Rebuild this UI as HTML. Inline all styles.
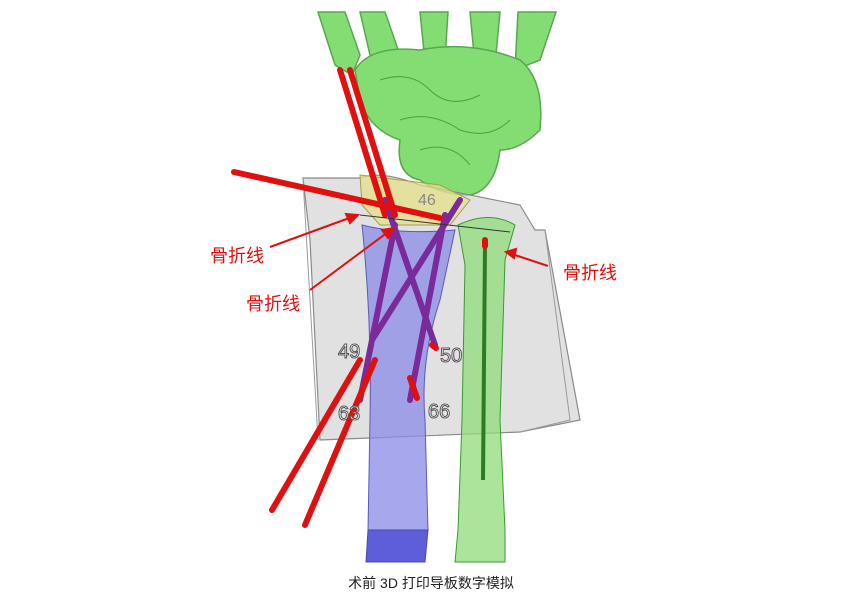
<!DOCTYPE html>
<html><head><meta charset="utf-8"><style>
body{margin:0;background:#fff;width:862px;height:595px;overflow:hidden}
svg{display:block}
</style></head><body>
<svg width="862" height="595" viewBox="0 0 862 595" xmlns="http://www.w3.org/2000/svg">
<rect width="862" height="595" fill="#fff"/>
<g fill="#6fd85a" stroke="#3a9a30" stroke-width="1.5" opacity="0.85">
<path d="M318 12 L345 12 L360 55 L352 75 L335 65 Z"/>
<path d="M360 12 L385 12 L400 55 L385 70 L370 55 Z"/>
<path d="M420 12 L448 12 L445 60 L425 62 Z"/>
<path d="M470 12 L500 12 L495 65 L475 65 Z"/>
<path d="M518 12 L556 12 L540 60 L515 70 Z"/>
<path d="M355 70 Q370 45 420 50 Q470 40 520 60 Q545 80 540 130 Q520 150 500 150 Q495 190 470 195 Q440 195 420 180 Q395 175 400 140 Q370 130 360 100 Z"/>
</g>
<g fill="none" stroke="#2f8a28" stroke-width="1" opacity="0.7">
<path d="M380 80 Q410 70 430 90 Q450 110 480 95"/>
<path d="M400 120 Q430 110 460 130 Q490 140 510 120"/>
<path d="M420 150 Q450 140 470 165"/>
</g>
<path d="M303 178 L360 178 Q380 170 420 185 Q470 195 520 205 L535 230 L545 230 L580 420 L520 432 L320 440 L310 240 Z" fill="#c8c8c8" fill-opacity="0.55" stroke="#8a8a8a" stroke-width="1.2"/>
<path d="M303 178 L318 440" stroke="#9a9a9a" stroke-width="1"/>
<path d="M545 230 L570 420 L520 432" fill="none" stroke="#9a9a9a"/>
<path d="M362 225 Q400 235 455 230 L440 300 Q420 360 425 420 L428 530 L368 530 L370 420 Q372 320 362 225 Z" fill="#8a8ae8" fill-opacity="0.75" stroke="#5a5ab8"/>
<path d="M368 530 L428 530 L425 562 L366 562 Z" fill="#5e5ed8" stroke="#4a4ab0"/>
<path d="M458 225 Q490 210 515 225 L505 260 L500 420 L505 530 L505 562 L455 562 L458 530 L462 420 L465 265 Z" fill="#8edc7a" fill-opacity="0.75" stroke="#3a9a30"/>
<line x1="485" y1="245" x2="483" y2="480" stroke="#2e7a25" stroke-width="4"/>
<path d="M360 175 L440 185 L470 200 L450 225 L380 225 L362 205 Z" fill="#e6e080" fill-opacity="0.7" stroke="#a0a050"/>
<text x="418" y="205" font-family="Liberation Sans,sans-serif" font-size="16" fill="#888">46</text>
<g stroke="#7a2a9a" stroke-width="6" stroke-linecap="round">
<line x1="385" y1="200" x2="435" y2="345"/>
<line x1="460" y1="200" x2="372" y2="340"/>
<line x1="445" y1="215" x2="410" y2="400"/>
<line x1="395" y1="225" x2="360" y2="400"/>
</g>
<g stroke="#e01010" stroke-width="6" stroke-linecap="round">
<line x1="340" y1="70" x2="385" y2="215"/>
<line x1="350" y1="70" x2="395" y2="215"/>
<line x1="234" y1="172" x2="440" y2="218"/>
<line x1="360" y1="360" x2="272" y2="510"/>
<line x1="375" y1="360" x2="305" y2="525"/>
<line x1="432" y1="345" x2="436" y2="348"/>
<line x1="410" y1="378" x2="417" y2="398"/>
<line x1="485" y1="240" x2="485" y2="246"/>
</g>
<line x1="360" y1="215" x2="510" y2="232" stroke="#333" stroke-width="1"/>
<g font-family="Liberation Sans,sans-serif" font-size="20" fill="#fff" stroke="#555" stroke-width="1">
<text x="338" y="358">49</text><text x="440" y="362">50</text>
<text x="338" y="420">63</text><text x="428" y="418">66</text>
</g>
<g stroke="#e01010" stroke-width="2" fill="#e01010">
<line x1="270" y1="247" x2="352" y2="217"/><polygon points="358,215 346,214 350,223"/>
<line x1="310" y1="290" x2="388" y2="232"/><polygon points="394,228 382,230 388,238"/>
<line x1="548" y1="266" x2="512" y2="254"/><polygon points="506,252 516,249 514,258"/>
</g>
<g font-family="Liberation Sans,'Noto Sans CJK SC',sans-serif" font-size="18" fill="#e01010">
<text x="210" y="262">骨折线</text>
<text x="246" y="310">骨折线</text>
<text x="563" y="279">骨折线</text>
</g>
<text x="431" y="588" text-anchor="middle" font-family="Liberation Sans,'Noto Sans CJK SC',sans-serif" font-size="14" fill="#222">术前 3D 打印导板数字模拟</text>
</svg>
</body></html>
